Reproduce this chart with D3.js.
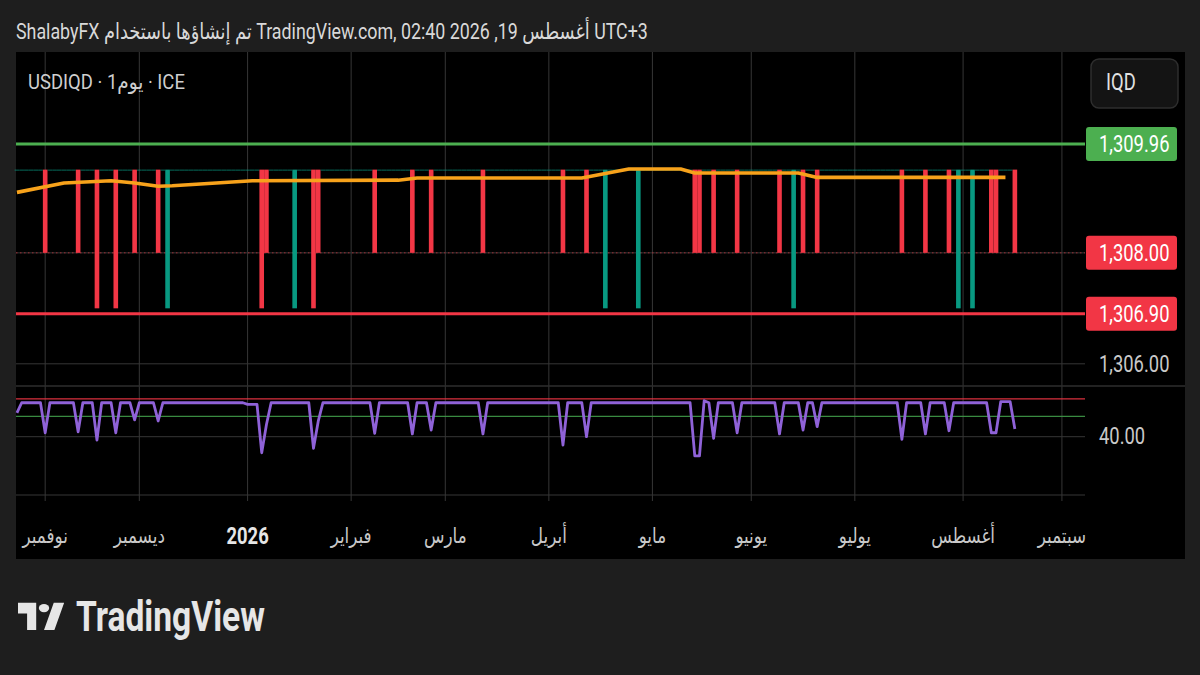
<!DOCTYPE html>
<html lang="ar">
<head>
<meta charset="utf-8">
<title>USDIQD · 1يوم · ICE</title>
<style>
  body { margin: 0; background: #1e1e1e; }
  svg { display: block; }
  text { font-family: Roboto, 'DejaVu Sans', sans-serif; }
</style>
<script src="https://d3js.org/d3.v7.min.js"></script>
</head>
<body>
<svg id="chart" width="1200" height="675"></svg>
<script>
// ---- data ----
const headerText = "ShalabyFX تم إنشاؤها باستخدام TradingView.com, 02:40 2026 ,19 أغسطس UTC+3";
const legendText = "USDIQD · 1يوم · ICE";
const currency = "IQD";

const tickDates  = ["2025-11-03","2025-12-01","2026-01-01","2026-02-02","2026-03-02","2026-04-01","2026-05-01","2026-06-01","2026-07-01","2026-08-03","2026-09-01"];
const tickLabels = ["نوفمبر","ديسمبر","2026","فبراير","مارس","أبريل","مايو","يونيو","يوليو","أغسطس","سبتمبر"];

const firstBar = "2025-10-24";
const lastBar  = "2026-08-18";
const axisEnd  = "2026-09-08";

// most sessions print flat at this level
const flatClose = 1309.5;
// red sessions closing at 1,308.00
const drop1308 = ["2025-11-03","2025-11-12","2025-11-28","2025-12-05","2026-01-07","2026-01-22","2026-02-09","2026-02-19","2026-02-25","2026-03-12","2026-04-06","2026-04-13","2026-05-14","2026-05-15","2026-05-20","2026-05-27","2026-06-09","2026-06-16","2026-06-19","2026-07-15","2026-07-22","2026-07-29","2026-08-11","2026-08-12","2026-08-18"];
// red sessions closing near 1,307.00
const drop1307 = ["2025-11-18","2025-11-24","2026-01-06","2026-01-21"];
// green sessions opening near 1,307.00
const rise1307 = ["2025-12-09","2026-01-15","2026-04-17","2026-04-28","2026-06-12","2026-07-31","2026-08-05"];
const deepLevel = 1307.0;

// orange moving average
const maPoints = [["2025-10-24",1309.09],["2025-11-07",1309.26],["2025-11-21",1309.30],["2025-11-28",1309.26],["2025-12-05",1309.20],["2025-12-10",1309.21],["2026-01-02",1309.30],["2026-02-16",1309.31],["2026-02-20",1309.35],["2026-04-10",1309.35],["2026-04-24",1309.51],["2026-05-11",1309.51],["2026-05-14",1309.44],["2026-06-15",1309.44],["2026-06-19",1309.36],["2026-08-14",1309.36]];

const levelHigh = 1309.96;
const levelLow  = 1306.90;
const lastClose = 1308.00;
const priceTicks = [1306, 1308];

// oscillator pane
const rsiFlat = 63.3;
const rsiPoints = [["2025-10-24",56.3],["2025-11-03",42.7],["2025-11-12",43.4],["2025-11-18",37.7],["2025-11-24",42.7],["2025-11-28",51.5],["2025-12-05",50.8],["2026-01-01",62.2],["2026-01-02",62.2],["2026-01-05",62.2],["2026-01-06",29.0],["2026-01-07",48.2],["2026-01-21",32.0],["2026-01-22",50.5],["2026-02-09",42.3],["2026-02-19",41.9],["2026-02-25",44.6],["2026-03-12",41.9],["2026-04-06",34.3],["2026-04-13",40.0],["2026-05-14",26.8],["2026-05-15",26.8],["2026-05-18",64.7],["2026-05-20",38.9],["2026-05-27",42.7],["2026-06-09",41.9],["2026-06-16",44.6],["2026-06-19",46.9],["2026-07-15",38.2],["2026-07-22",41.9],["2026-07-29",44.1],["2026-08-11",42.7],["2026-08-12",42.7],["2026-08-13",64.0],["2026-08-14",64.0],["2026-08-17",64.0],["2026-08-18",45.3]];
const rsiUpper = 66;
const rsiLower = 54;
const rsiTicks = [40, 0];
const rsiLabelTicks = [40];

// ---- layout ----
const W = 1200, H = 675;
const panel = { left: 16, right: 1185, top: 52, bottom: 559 };
const plotRight = 1085;
const pricePane = { top: 52, bottom: 386 };
const rsiPane = { top: 386, bottom: 497 };

const RED = "#f23645", TEAL = "#089981", GREEN = "#4caf50", GRID = "#363636";

const parse = d3.timeParse("%Y-%m-%d");
const fmt = d3.timeFormat("%Y-%m-%d");

// trading sessions (weekdays), used as the bar index of the time scale
const sessions = d3.timeDay.range(parse(firstBar), d3.timeDay.offset(parse(axisEnd), 1))
  .filter(d => d.getDay() !== 0 && d.getDay() !== 6);
const indexOf = new Map(sessions.map((d, i) => [fmt(d), i]));
const lastIdx = indexOf.get(lastBar);

const x = d3.scaleLinear().domain([-0.2, 226.9]).range([panel.left, plotRight]);
const step = x(1) - x(0);
const yP = d3.scaleLinear().domain([1305.6, 1311.62]).range([pricePane.bottom, pricePane.top]);
const yR = d3.scaleLinear().domain([0, 80]).range([495, 378.4]);

const red8 = new Set(drop1308), red7 = new Set(drop1307), grn7 = new Set(rise1307);
const candles = sessions.slice(0, lastIdx + 1).map((d, i) => {
  const k = fmt(d);
  let o = flatClose, c = flatClose;
  if (red8.has(k)) c = lastClose;
  else if (red7.has(k)) c = deepLevel;
  else if (grn7.has(k)) o = deepLevel;
  return { i, o, c };
});
const rsiMap = new Map(rsiPoints);
const rsi = sessions.slice(0, lastIdx + 1).map((d, i) => ({ i, v: rsiMap.has(fmt(d)) ? rsiMap.get(fmt(d)) : rsiFlat }));

const svg = d3.select("#chart");

function addText(parent, tx, ty, str, size, color, opts = {}) {
  const t = parent.append("text")
    .attr("font-size", size)
    .attr("fill", color)
    .attr("dominant-baseline", "central")
    .attr("text-anchor", opts.anchor || "start")
    .attr("font-weight", opts.weight || 400)
    .text(str);
  let sx = opts.sx || 0.8;
  if (opts.fit) sx = opts.fit / t.node().getComputedTextLength();
  t.attr("transform", `translate(${tx},${ty}) scale(${sx},1)`);
  return t;
}

// background + header
svg.append("rect").attr("width", W).attr("height", H).attr("fill", "#1e1e1e");
addText(svg, 16, 31, headerText, 22, "#d9d9d9", { fit: 632 });

svg.append("rect")
  .attr("x", panel.left).attr("y", panel.top)
  .attr("width", panel.right - panel.left).attr("height", panel.bottom - panel.top)
  .attr("fill", "#000");

// vertical grid
const tickIdx = tickDates.map(d => indexOf.get(d));
svg.append("g").selectAll("line").data(tickIdx).join("line")
  .attr("x1", d => x(d)).attr("x2", d => x(d))
  .attr("y1", panel.top).attr("y2", rsiPane.bottom + 4)
  .attr("stroke", GRID).attr("stroke-width", 1);

// horizontal grid, price pane
svg.append("g").selectAll("line").data(priceTicks).join("line")
  .attr("x1", panel.left).attr("x2", plotRight)
  .attr("y1", d => yP(d)).attr("y2", d => yP(d))
  .attr("stroke", GRID);

// pane separator
svg.append("line")
  .attr("x1", panel.left).attr("x2", panel.right)
  .attr("y1", rsiPane.top).attr("y2", rsiPane.top)
  .attr("stroke", "#2e2e2e").attr("stroke-width", 1.5);

// horizontal grid, oscillator pane
svg.append("g").selectAll("line").data(rsiTicks).join("line")
  .attr("x1", panel.left).attr("x2", plotRight)
  .attr("y1", d => yR(d)).attr("y2", d => yR(d))
  .attr("stroke", GRID);

// last price dotted line
svg.append("line")
  .attr("x1", panel.left).attr("x2", plotRight)
  .attr("y1", yP(lastClose)).attr("y2", yP(lastClose))
  .attr("stroke", RED).attr("stroke-opacity", 0.6)
  .attr("stroke-dasharray", "1.5,2.5");

// candles
const bw = step * 0.98;
svg.append("g").selectAll("rect").data(candles).join("rect")
  .attr("x", d => x(d.i) - bw / 2)
  .attr("width", bw)
  .attr("y", d => yP(Math.max(d.o, d.c)))
  .attr("height", d => Math.max(1, Math.abs(yP(d.o) - yP(d.c))))
  .attr("fill", d => d.c < d.o ? RED : TEAL)
  .attr("fill-opacity", d => d.c === d.o ? 0.7 : 1);

// moving average
const maLine = d3.line().x(d => x(indexOf.get(d[0]))).y(d => yP(d[1]));
svg.append("path").datum(maPoints)
  .attr("d", maLine).attr("fill", "none")
  .attr("stroke", "#f7a21b").attr("stroke-width", 3.6)
  .attr("stroke-linejoin", "round");

// horizontal levels
[[levelHigh, GREEN], [levelLow, RED]].forEach(([v, col]) => {
  svg.append("line")
    .attr("x1", panel.left).attr("x2", plotRight)
    .attr("y1", yP(v)).attr("y2", yP(v))
    .attr("stroke", col).attr("stroke-width", 3);
});

// oscillator bands + line
[[rsiUpper, RED], [rsiLower, "#3f9a48"]].forEach(([v, col]) => {
  svg.append("line")
    .attr("x1", panel.left).attr("x2", plotRight)
    .attr("y1", yR(v)).attr("y2", yR(v))
    .attr("stroke", col).attr("stroke-opacity", 0.9).attr("stroke-width", 1.3);
});
const rsiLine = d3.line().x(d => x(d.i)).y(d => yR(d.v));
svg.append("path").datum(rsi)
  .attr("d", rsiLine).attr("fill", "none")
  .attr("stroke", "#8f62d8").attr("stroke-width", 2.8)
  .attr("stroke-linejoin", "round");

// price axis labels
const fmtP = d3.format(",.2f");
const axisX = 1099;
priceTicks.filter(v => v !== lastClose).forEach(v => {
  addText(svg, axisX, yP(v), fmtP(v), 23, "#c9c9c9");
});
[[levelHigh, GREEN], [lastClose, RED], [levelLow, RED]].forEach(([v, col]) => {
  svg.append("rect")
    .attr("x", 1086).attr("y", yP(v) - 17)
    .attr("width", 91).attr("height", 34).attr("rx", 3)
    .attr("fill", col);
  addText(svg, axisX, yP(v), fmtP(v), 23, "#ffffff");
});
rsiLabelTicks.forEach(v => addText(svg, axisX, yR(v), fmtP(v), 23, "#c9c9c9"));

// time axis labels
tickIdx.forEach((t, k) => {
  const bold = tickLabels[k] === "2026";
  addText(svg, x(t), 536, tickLabels[k], bold ? 23 : 21, bold ? "#e6e6e6" : "#c9c9c9",
    { anchor: "middle", weight: bold ? 700 : 400 });
});

// legend + currency box
addText(svg, 28, 82, legendText, 21, "#cfcfcf", { fit: 157 });
svg.append("rect")
  .attr("x", 1091).attr("y", 59).attr("width", 87).attr("height", 49).attr("rx", 8)
  .attr("fill", "#141414").attr("stroke", "#2e2e2e").attr("stroke-width", 1.5);
addText(svg, 1106, 82, currency, 23, "#e2e2e2");

// TradingView logo
const logo = svg.append("g").attr("transform", "translate(18,601) scale(1.3,1.04)");
logo.append("path").attr("d", "M14 22H7V11H0V4h14v18zM28 22h-8l7.5-18h8L28 22z").attr("fill", "#e6e6e6").attr("transform", "translate(0,-4) scale(1,1.45)");
logo.append("circle").attr("cx", 20).attr("cy", 6.8).attr("r", 4).attr("fill", "#e6e6e6");
addText(svg, 76, 617, "TradingView", 42, "#e6e6e6", { weight: 700, fit: 189 });
</script>
</body>
</html>
